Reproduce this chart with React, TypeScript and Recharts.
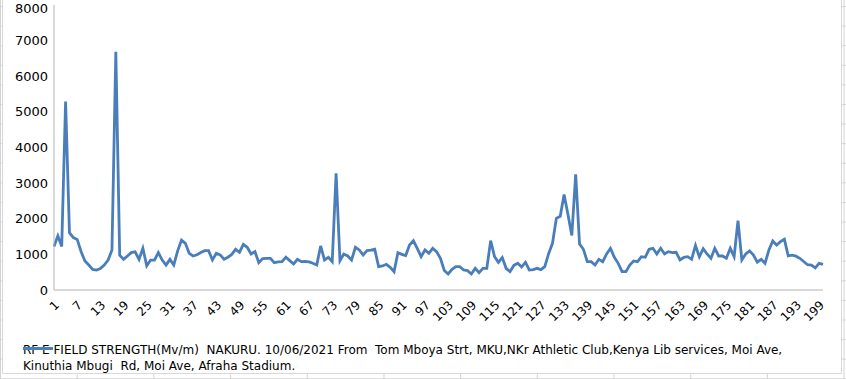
import { LineChart, Line, XAxis, YAxis, Legend } from 'recharts';

const legendLine1 = 'RF E FIELD STRENGTH(Mv/m)  NAKURU. 10/06/2021 From  Tom Mboya Strt, MKU,NKr Athletic Club,Kenya Lib services, Moi Ave,';
const legendLine2 = 'Kinuthia Mbugi  Rd, Moi Ave, Afraha Stadium.';
const seriesName = legendLine1 + ' ' + legendLine2;

// field strength readings, one per sample point (1..200)
const fieldStrength = [
  1220, 1520, 1220, 5290, 1610, 1470, 1420, 1080, 815, 700,
  580, 560, 600, 700, 840, 1120, 6690, 980, 860, 955,
  1050, 1070, 860, 1170, 680, 840, 840, 1050, 840, 700,
  860, 700, 1100, 1400, 1310, 1030, 955, 990, 1050, 1105,
  1105, 843, 1030, 985, 862, 920, 1000, 1143, 1060, 1283,
  1199, 1011, 1077, 768, 880, 890, 890, 768, 787, 796,
  918, 824, 730, 862, 796, 800, 787, 750, 702, 1236,
  843, 918, 796, 3277, 824, 1011, 955, 843, 1199, 1124,
  983, 1105, 1120, 1143, 655, 674, 721, 637, 515, 1049,
  1000, 965, 1264, 1386, 1170, 936, 1124, 1030, 1170, 1077,
  890, 550, 449, 580, 655, 655, 562, 543, 449, 608,
  487, 608, 608, 1386, 937, 775, 910, 608, 515, 690,
  749, 645, 780, 562, 570, 608, 570, 655, 1020, 1311,
  2013, 2070, 2680, 2120, 1530, 3245, 1290, 1143, 796, 796,
  702, 862, 796, 1011, 1170, 918, 749, 515, 515, 702,
  815, 796, 936, 918, 1143, 1170, 1011, 1170, 1011, 1077,
  1049, 1058, 843, 918, 936, 862, 1250, 930, 1160, 1011,
  890, 1170, 955, 955, 890, 1170, 936, 1948, 843, 1011,
  1100, 983, 780, 860, 749, 1124, 1377, 1264, 1358, 1423,
  960, 980, 950, 890, 800, 710, 700, 620, 750, 720,
];

const samples = fieldStrength.map((_, i) => String(i + 1));
const yTicks = [0, 1000, 2000, 3000, 4000, 5000, 6000, 7000, 8000];

const chartData = samples.map((s, i) => ({ sample: s, value: fieldStrength[i] }));

const FONT = '"DejaVu Sans", sans-serif';
const LINE_COLOR = '#4a7ebb';
const AXIS_COLOR = '#b3b3b3';

function RotatedTick({ x, y, payload }: any) {
  return (
    <g transform={`translate(${x + 3},${y + 5})`}>
      <text
        textAnchor="end"
        dominantBaseline="central"
        transform="rotate(-45)"
        fontSize={12}
        fontFamily={FONT}
        fill="#000"
      >
        {payload.value}
      </text>
    </g>
  );
}

function LegendBox() {
  return (
    <div style={{ position: 'relative', fontFamily: FONT, fontSize: 12, color: '#000', lineHeight: '15.5px', whiteSpace: 'pre' }}>
      <div>{legendLine1}</div>
      <div>{legendLine2}</div>
      <div style={{ position: 'absolute', left: 0, top: 4, width: 30, height: 3, background: LINE_COLOR }} />
    </div>
  );
}

export default function App() {
  return (
    <div
      style={{
        position: 'absolute',
        left: 0,
        top: 0,
        width: 846,
        height: 379,
        overflow: 'hidden',
        backgroundColor: '#fff',
        backgroundImage:
          'linear-gradient(to right, #d4d4d4 1px, transparent 1px), linear-gradient(to bottom, #d4d4d4 1px, transparent 1px)',
        backgroundSize: '76.7px 19.6px',
        backgroundPosition: '0 6px',
      }}
    >
      <div
        style={{
          position: 'absolute',
          left: 2,
          top: -2,
          width: 838,
          height: 374,
          background: '#fff',
          border: '1px solid #d9d9d9',
        }}
      />
      <div style={{ position: 'absolute', left: 0, top: 0 }}>
        <LineChart
          width={846}
          height={379}
          data={chartData}
          margin={{ top: 5, right: 23, left: 0, bottom: 49 }}
        >
          <XAxis
            dataKey="sample"
            interval={5}
            height={40}
            axisLine={{ stroke: AXIS_COLOR }}
            tickLine={false}
            tick={<RotatedTick />}
          />
          <YAxis
            width={54}
            domain={[0, 8000]}
            ticks={yTicks}
            axisLine={{ stroke: AXIS_COLOR }}
            tickLine={false}
            tickMargin={0}
            tick={{ fontSize: 13, fontFamily: FONT, fill: '#000' }}
          />
          <Legend
            layout="vertical"
            align="center"
            verticalAlign="middle"
            content={<LegendBox />}
            wrapperStyle={{ left: 23, top: 343, width: 820, height: 34 }}
          />
          <Line
            type="linear"
            dataKey="value"
            name={seriesName}
            stroke={LINE_COLOR}
            strokeWidth={2.8}
            dot={false}
            activeDot={false}
            isAnimationActive={false}
          />
        </LineChart>
      </div>
    </div>
  );
}
